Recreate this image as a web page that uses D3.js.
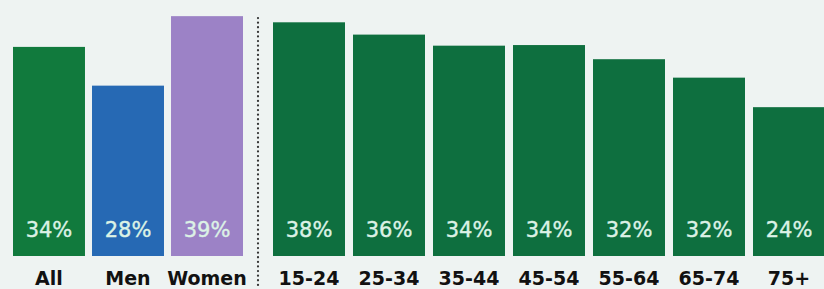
<!DOCTYPE html>
<html>
<head>
<meta charset="utf-8">
<script src="https://cdn.jsdelivr.net/npm/d3@7"></script>
<style>
  html, body { margin: 0; padding: 0; background: #eef3f2; }
  svg { display: block; }
</style>
</head>
<body>
<svg id="chart" width="824" height="289"></svg>
<script>
// Data
const groupCategories = ["All", "Men", "Women"];
const groupLabels = [34, 28, 39];          // printed percentages
const groupBarValues = [34, 27.7, 39];     // bar lengths as drawn
const groupColors = ["#117a3d", "#2669b4", "#9c82c6"];

const ageCategories = ["15-24", "25-34", "35-44", "45-54", "55-64", "65-74", "75+"];
const ageLabels = [38, 36, 34, 34, 32, 32, 24];       // printed percentages
const ageBarValues = [38, 36, 34.2, 34.3, 32, 29, 24.2]; // bar lengths as drawn
const ageColor = "#0e6f3f";

const svg = d3.select("#chart");
const baseline = 256;
const y = d3.scaleLinear().domain([0, 40]).range([baseline, baseline - 40 * 6.15]);

const xLeft = d3.scaleBand().domain(groupCategories).range([13, 243]).paddingInner(0.089).paddingOuter(0);
const xRight = d3.scaleBand().domain(ageCategories).range([273, 825]).paddingInner(0.1).paddingOuter(0);

function drawPanel(cats, barVals, labels, xs, colorFn) {
  const g = svg.append("g");
  const data = cats.map((c, i) => ({ c, v: barVals[i], l: labels[i], i }));
  g.selectAll("rect").data(data).enter().append("rect")
    .attr("x", d => xs(d.c))
    .attr("y", d => y(d.v))
    .attr("width", xs.bandwidth())
    .attr("height", d => baseline - y(d.v))
    .attr("fill", d => colorFn(d));
  g.selectAll("text.val").data(data).enter().append("text")
    .attr("class", "val")
    .attr("x", d => xs(d.c) + xs.bandwidth() / 2)
    .attr("y", 237)
    .attr("text-anchor", "middle")
    .attr("font-family", "'DejaVu Sans', sans-serif")
    .attr("font-weight", 400)
    .attr("font-size", 21)
    .attr("stroke", "#dcf2e6")
    .attr("stroke-width", 0.4)
    .attr("fill", "#dcf2e6")
    .text(d => d.l + "%");
  g.selectAll("text.cat").data(data).enter().append("text")
    .attr("class", "cat")
    .attr("x", d => xs(d.c) + xs.bandwidth() / 2)
    .attr("y", 285)
    .attr("text-anchor", "middle")
    .attr("font-family", "'DejaVu Sans', sans-serif")
    .attr("font-weight", 700)
    .attr("font-size", 19)
    .attr("fill", "#111")
    .text(d => d.c);
}

drawPanel(groupCategories, groupBarValues, groupLabels, xLeft, d => groupColors[d.i]);
drawPanel(ageCategories, ageBarValues, ageLabels, xRight, d => ageColor);

// dotted divider
svg.append("line")
  .attr("x1", 258).attr("x2", 258)
  .attr("y1", 18).attr("y2", 289)
  .attr("stroke", "#333")
  .attr("stroke-width", 2.2)
  .attr("stroke-linecap", "round")
  .attr("stroke-dasharray", "0.1 4.5");
</script>
</body>
</html>
